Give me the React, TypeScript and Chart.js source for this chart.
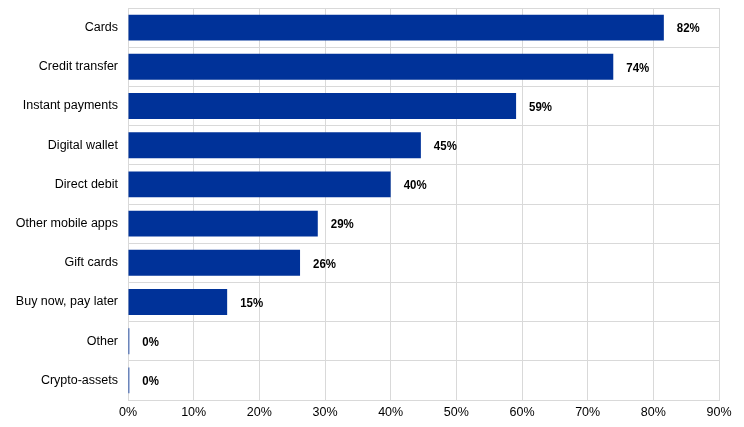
import React, { useEffect, useRef } from "react";
import { Chart, registerables } from "chart.js";

Chart.register(...registerables);

const categories = [
  "Cards",
  "Credit transfer",
  "Instant payments",
  "Digital wallet",
  "Direct debit",
  "Other mobile apps",
  "Gift cards",
  "Buy now, pay later",
  "Other",
  "Crypto-assets",
];
const values = [81.6, 73.9, 59.1, 44.6, 40.0, 28.9, 26.2, 15.1, 0.2, 0.2];
const xTicks = [0, 10, 20, 30, 40, 50, 60, 70, 80, 90];

const labelPlugin = {
  id: "barLabels",
  afterDatasetsDraw(chart: any) {
    const ctx = chart.ctx;
    const meta = chart.getDatasetMeta(0);
    const sx = 0.85;
    meta.data.forEach((bar: any, i: number) => {
      ctx.save();
      ctx.font = "bold 13.5px 'Liberation Sans', Arial, sans-serif";
      ctx.fillStyle = "#000000";
      ctx.textAlign = "left";
      ctx.textBaseline = "middle";
      ctx.translate(bar.x + 13, bar.y + 1);
      ctx.scale(sx, 1);
      ctx.fillText(Math.round(values[i]) + "%", 0, 0);
      ctx.restore();
    });
  },
};

export default function App() {
  const ref = useRef<HTMLCanvasElement>(null);
  useEffect(() => {
    document.body.style.margin = "0";
    const chart = new Chart(ref.current!, {
      type: "bar",
      data: {
        labels: categories,
        datasets: [
          {
            data: values,
            backgroundColor: "#003299",
            barPercentage: 0.66,
            categoryPercentage: 1,
          },
        ],
      },
      options: {
        indexAxis: "y",
        animation: false,
        responsive: false,
        layout: { padding: { top: 8, right: 25, bottom: 0, left: 0 } },
        plugins: { legend: { display: false }, tooltip: { enabled: false } },
        scales: {
          x: {
            min: 0,
            max: 90,
            afterBuildTicks: (s: any) => {
              s.ticks = xTicks.map((v) => ({ value: v }));
            },
            afterFit: (s: any) => {
              s.height = 27;
              s.paddingLeft = 0;
              s.paddingRight = 0;
            },
            grid: { color: "#d9d9d9", drawTicks: false },
            border: { color: "#d9d9d9" },
            ticks: {
              padding: 5,
              color: "#000000",
              font: { family: "'Liberation Sans', Arial, sans-serif", size: 12.5 },
              callback: (v: any) => v + "%",
            },
          },
          y: {
            afterFit: (s: any) => {
              s.width = 128;
              s.paddingTop = 0;
              s.paddingBottom = 0;
            },
            grid: { color: "#d9d9d9", drawTicks: false, offset: true },
            border: { color: "#d9d9d9" },
            ticks: {
              padding: 10,
              color: "#000000",
              font: { family: "'Liberation Sans', Arial, sans-serif", size: 12.5 },
            },
          },
        },
      },
      plugins: [labelPlugin],
    });
    return () => chart.destroy();
  }, []);
  return (
    <div style={{ width: 744, height: 427 }}>
      <canvas ref={ref} width={744} height={427} />
    </div>
  );
}
